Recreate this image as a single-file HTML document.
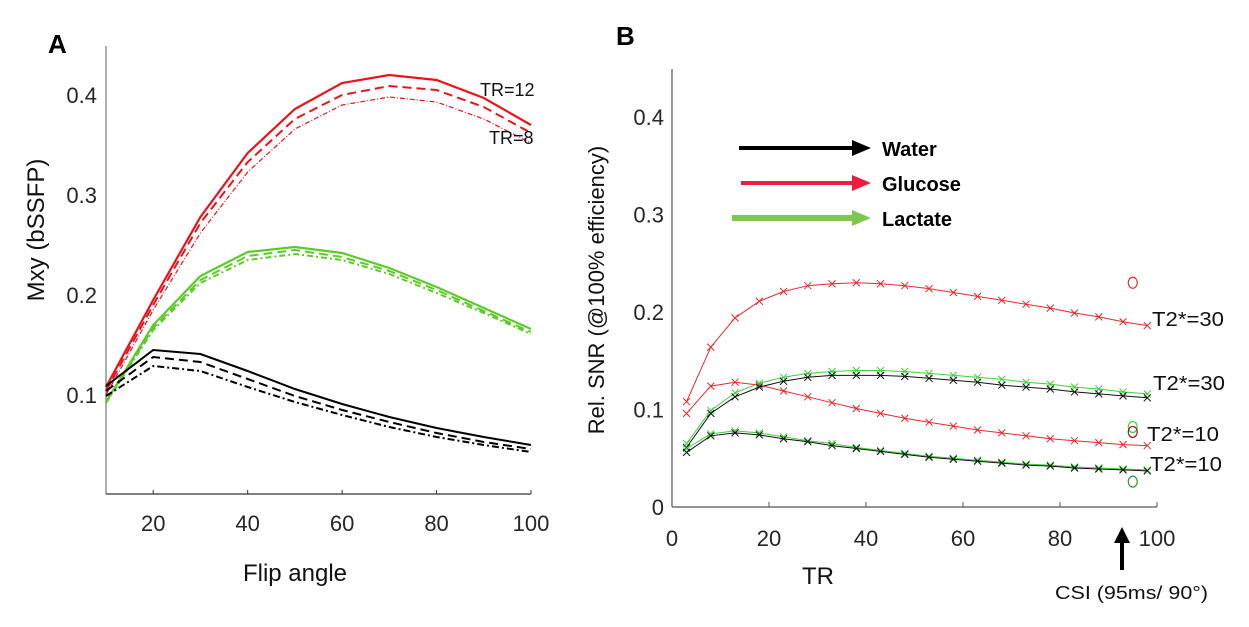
<!DOCTYPE html>
<html><head><meta charset="utf-8"><style>
body{margin:0;background:#fff;width:1249px;height:622px;overflow:hidden}
svg{font-family:"Liberation Sans",sans-serif}
</style></head><body>
<svg id="fig" width="1249" height="622" viewBox="0 0 1249 622" xmlns="http://www.w3.org/2000/svg">
<g id="pa"></g>
<g id="pb"></g>
</svg>
<script>
const flipAngles=[10,20,30,40,50,60,70,80,90,100];
const redSolid=[0.108,0.195,0.278,0.342,0.386,0.412,0.420,0.415,0.397,0.370];
const redDash=[0.104,0.190,0.272,0.333,0.376,0.400,0.409,0.405,0.388,0.362];
const redDot=[0.100,0.185,0.262,0.323,0.366,0.390,0.398,0.393,0.376,0.352];
const greenSolid=[0.093,0.170,0.219,0.243,0.248,0.242,0.227,0.208,0.187,0.166];
const greenDash=[0.093,0.167,0.215,0.239,0.245,0.238,0.224,0.205,0.184,0.163];
const greenDot=[0.092,0.165,0.212,0.235,0.241,0.235,0.221,0.202,0.182,0.161];
const blackSolid=[0.109,0.145,0.141,0.124,0.106,0.091,0.078,0.067,0.058,0.050];
const blackDash=[0.104,0.138,0.133,0.116,0.099,0.085,0.073,0.062,0.053,0.046];
const blackDot=[0.099,0.129,0.124,0.108,0.093,0.080,0.068,0.058,0.050,0.043];
const aXTicks=[20,40,60,80,100];
const aYTicks=[0.1,0.2,0.3,0.4];

const trValues=[3,8,13,18,23,28,33,38,43,48,53,58,63,68,73,78,83,88,93,98];
const glc30=[0.108,0.164,0.194,0.211,0.221,0.227,0.229,0.230,0.229,0.227,0.224,0.220,0.216,0.212,0.208,0.204,0.199,0.195,0.190,0.186];
const glc10=[0.096,0.124,0.128,0.125,0.119,0.113,0.107,0.101,0.096,0.091,0.087,0.083,0.079,0.076,0.073,0.070,0.068,0.066,0.064,0.063];
const lac30=[0.065,0.099,0.117,0.127,0.133,0.137,0.139,0.140,0.140,0.139,0.137,0.135,0.133,0.131,0.128,0.126,0.123,0.121,0.118,0.116];
const wat30=[0.061,0.096,0.113,0.123,0.129,0.133,0.135,0.135,0.135,0.134,0.132,0.130,0.128,0.125,0.123,0.121,0.118,0.116,0.114,0.112];
const lac10=[0.060,0.075,0.078,0.076,0.072,0.068,0.065,0.061,0.058,0.055,0.052,0.050,0.048,0.046,0.044,0.043,0.041,0.040,0.039,0.038];
const wat10=[0.056,0.073,0.076,0.074,0.070,0.067,0.063,0.060,0.057,0.054,0.051,0.049,0.047,0.045,0.043,0.042,0.040,0.039,0.038,0.037];
const csiTR=[95,95,95,95];
const csiValues=[0.230,0.082,0.077,0.026];
const bXTicks=[0,20,40,60,80,100];
const bYTicks=[0,0.1,0.2,0.3,0.4];

const NS="http://www.w3.org/2000/svg";
function mk(parent,tag,attrs,text){const e=document.createElementNS(NS,tag);for(const k in attrs)e.setAttribute(k,attrs[k]);if(text!==undefined)e.textContent=text;parent.appendChild(e);return e;}

// Panel A
const pa=document.getElementById('pa');
const ax=v=>106+(v-10)*(531-106)/90;
const ay=v=>495-v*1000;
let e;
e=mk(pa,'line',{x1:106,y1:46,x2:106,y2:494,stroke:'#777','stroke-width':1.2});


e=mk(pa,'line',{x1:106,y1:494,x2:531,y2:494,stroke:'#333','stroke-width':1.2});


aXTicks.forEach(t=>{
 e=mk(pa,'line',{x1:ax(t),y1:494,x2:ax(t),y2:490,stroke:'#333'});
 
 
 e=mk(pa,'text',{x:ax(t),y:531,'font-size':22,'text-anchor':'middle',fill:'#262626'},String(t));
 
 
});
aYTicks.forEach(t=>{
 e=mk(pa,'text',{x:97,y:ay(t)+8,'font-size':22,'text-anchor':'end',fill:'#262626'},String(t));
 
 
});
const aSeries=[[redSolid,'#e8141b',2.2,''],[redDash,'#e8141b',2,'9,5'],[redDot,'#e8141b',1.2,'5,2,1,2'],
 [greenSolid,'#5ccb2a',2.2,''],[greenDash,'#5ccb2a',2,'9,5'],[greenDot,'#5ccb2a',2,'6,3,2,3'],
 [blackSolid,'#000',2,''],[blackDash,'#000',2,'9,5'],[blackDot,'#000',2,'7,3,2,3']];
aSeries.forEach(s=>{
 const d=s[0].map((v,i)=>(i?'L':'M')+ax(flipAngles[i]).toFixed(1)+','+ay(v).toFixed(1)).join('');
 e=mk(pa,'path',{d:d,fill:'none',stroke:s[1],'stroke-width':s[2],'stroke-dasharray':s[3]});
 
 
});
e=mk(pa,'text',{x:48,y:53,'font-size':26,'font-weight':'bold'},'A');


e=mk(pa,'text',{x:0,y:0,'font-size':24,'text-anchor':'middle',fill:'#111',transform:'translate(44,230) rotate(-90)'},'Mxy (bSSFP)');


e=mk(pa,'text',{x:295,y:581,'font-size':24,'text-anchor':'middle',fill:'#111'},'Flip angle');


e=mk(pa,'text',{x:480,y:96,'font-size':18,fill:'#111'},'TR=12');


e=mk(pa,'text',{x:489,y:144,'font-size':18,fill:'#111'},'TR=8');



// Panel B
const pb=document.getElementById('pb');
const bx=v=>672+v*4.85;
const by=v=>507-v*975;
e=mk(pb,'line',{x1:672,y1:69,x2:672,y2:507,stroke:'#555','stroke-width':1.2});


e=mk(pb,'line',{x1:672,y1:507,x2:1157,y2:507,stroke:'#555','stroke-width':1.2});


bXTicks.forEach(t=>{
 e=mk(pb,'line',{x1:bx(t),y1:507,x2:bx(t),y2:502,stroke:'#555'});
 
 
 e=mk(pb,'text',{x:bx(t),y:546,'font-size':22,'text-anchor':'middle',fill:'#262626'},String(t));
 
 
});
bYTicks.forEach(t=>{
 e=mk(pb,'text',{x:664,y:by(t)+8,'font-size':22,'text-anchor':'end',fill:'#262626'},String(t));
 
 
});
const bSeries=[[glc30,'#e8282e'],[glc10,'#e8282e'],[lac30,'#3fd13a'],[wat30,'#111'],[lac10,'#3fd13a'],[wat10,'#111']];
bSeries.forEach(s=>{
 const d=s[0].map((v,i)=>(i?'L':'M')+bx(trValues[i]).toFixed(1)+','+by(v).toFixed(1)).join('');
 e=mk(pb,'path',{d:d,fill:'none',stroke:s[1],'stroke-width':1});
 
 
 s[0].forEach((v,i)=>{
  const X=bx(trValues[i]),Y=by(v);
  e=mk(pb,'path',{d:`M${X-3.5},${Y-3.5}L${X+3.5},${Y+3.5}M${X-3.5},${Y+3.5}L${X+3.5},${Y-3.5}`,stroke:s[1],'stroke-width':1});
  
  
 });
});
const csiColors=['#e8282e','#3fd13a','#8b1a1a','#2a9a2a'];
csiValues.forEach((v,i)=>{
 e=mk(pb,'ellipse',{cx:bx(csiTR[i]),cy:by(v),rx:4.5,ry:5.5,fill:'none',stroke:csiColors[i],'stroke-width':1.2});
 
 
});
[['T2*=30',1152,326],['T2*=30',1153,390],['T2*=10',1147,441],['T2*=10',1150,471]].forEach(l=>{
 e=mk(pb,'text',{x:l[1],y:l[2],'font-size':20,fill:'#111',textLength:72,lengthAdjust:'spacingAndGlyphs'},l[0]);
 
 
});
[['Water','#000',739,148,4],['Glucose','#ee1d3c',741,183,4],['Lactate','#7ec850',732,218,6]].forEach(l=>{
 e=mk(pb,'line',{x1:l[2],y1:l[3],x2:855,y2:l[3],stroke:l[1],'stroke-width':l[4]});
 
 
 e=mk(pb,'polygon',{points:`852,${l[3]-8} 871,${l[3]} 852,${l[3]+8}`,fill:l[1]});
 
 
 e=mk(pb,'text',{x:882,y:l[3]+8,'font-size':20,'font-weight':'bold',fill:'#000'},l[0]);
 
 
});
e=mk(pb,'text',{x:616,y:45,'font-size':26,'font-weight':'bold'},'B');


e=mk(pb,'text',{x:0,y:0,'font-size':22,'text-anchor':'middle',fill:'#111',transform:'translate(604,290) rotate(-90)'},'Rel. SNR (@100% efficiency)');


e=mk(pb,'text',{x:818,y:584,'font-size':24,'text-anchor':'middle',fill:'#111'},'TR');


e=mk(pb,'line',{x1:1122,y1:570,x2:1122,y2:540,stroke:'#000','stroke-width':4});


e=mk(pb,'polygon',{points:'1114,543 1122,527 1130,543',fill:'#000'});


e=mk(pb,'text',{x:1055,y:599,'font-size':18,fill:'#111',textLength:153,lengthAdjust:'spacingAndGlyphs'},'CSI (95ms/ 90°)');


</script>
</body></html>
